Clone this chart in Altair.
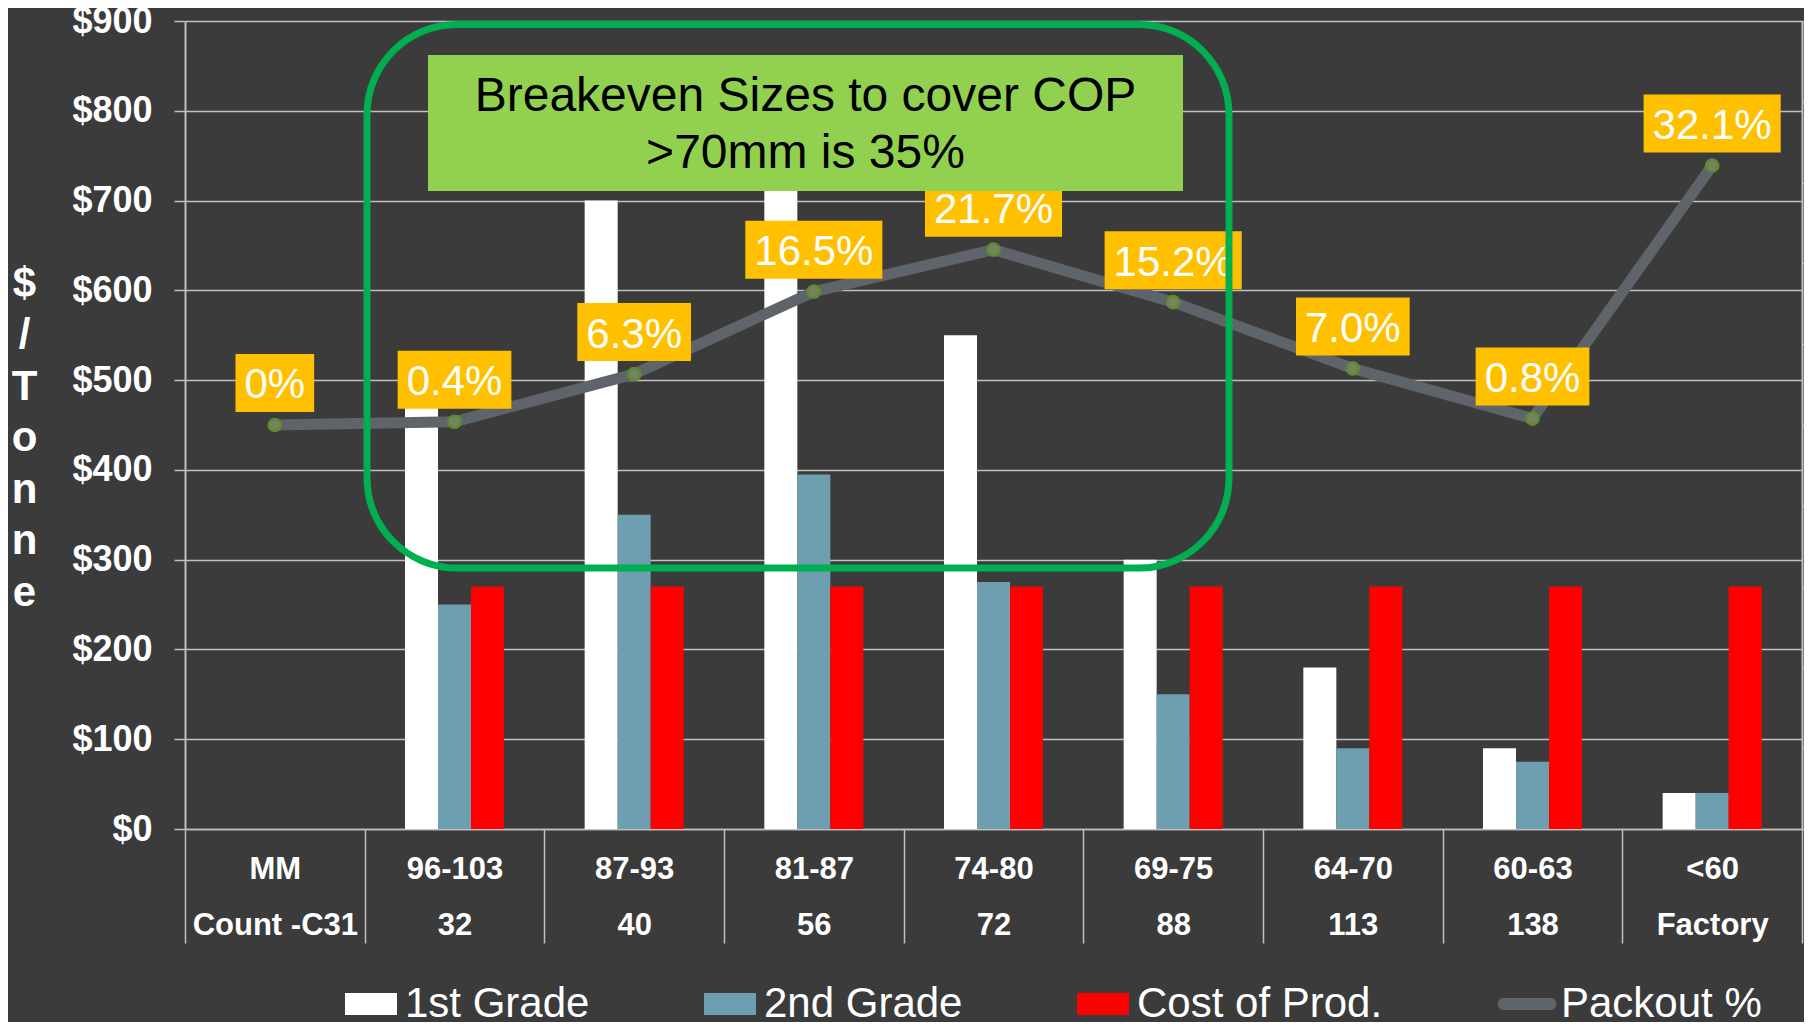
import altair as alt
import pandas as pd

# ---------------- data ----------------
mm_labels = ["MM", "96-103", "87-93", "81-87", "74-80", "69-75", "64-70", "60-63", "<60"]
count_labels = ["Count -C31", "32", "40", "56", "72", "88", "113", "138", "Factory"]
series_names = ["1st Grade", "2nd Grade", "Cost of Prod."]
first_grade = [None, 490, 700, 780, 550, 300, 180, 90, 40]
second_grade = [None, 250, 350, 395, 275, 150, 90, 75, 40]
cost_of_prod = [None, 270, 270, 270, 270, 270, 270, 270, 270]
packout_pct = [0.0, 0.4, 6.3, 16.5, 21.7, 15.2, 7.0, 0.8, 32.1]
packout_text = ["0%", "0.4%", "6.3%", "16.5%", "21.7%", "15.2%", "7.0%", "0.8%", "32.1%"]
legend_names = ["1st Grade", "2nd Grade", "Cost of Prod.", "Packout %"]
y_ticks = [0, 100, 200, 300, 400, 500, 600, 700, 800, 900]
y2_ticks = [-0.5, -0.4, -0.3, -0.2, -0.1, 0.0, 0.1, 0.2, 0.3, 0.4, 0.5]
note_lines = ["Breakeven Sizes to cover COP", ">70mm is 35%"]

cats = [f"{m}|{c}" for m, c in zip(mm_labels, count_labels)]

rows = []
for i, cat in enumerate(cats):
    for s, vals in zip(series_names, [first_grade, second_grade, cost_of_prod]):
        if vals[i] is not None:
            rows.append({"cat": cat, "series": s, "value": vals[i]})
bars_df = pd.DataFrame(rows)
line_df = pd.DataFrame({"cat": cats, "pk": [p / 100 for p in packout_pct], "label": packout_text})
leg_df = pd.DataFrame({"lseries": legend_names})
one_df = pd.DataFrame({"k": [0]})

# ---------------- style ----------------
FONT = "Liberation Sans, Arial, sans-serif"
GRID = "#c0c0c0"
BG = "#3b3b3b"
W, H = 1617, 808
STEP = W / len(cats)
GROUP = 99
bar_colors = ["#ffffff", "#6e9fb0", "#ff0000"]
legend_colors = ["#ffffff", "#6e9fb0", "#ff0000", "#5f646b"]
rect_path = "M-1,-0.423L1,-0.423L1,0.423L-1,0.423Z"
line_path = "M-0.9,-0.23L0.9,-0.23A0.23,0.23 0 0 1 0.9,0.23L-0.9,0.23A0.23,0.23 0 0 1 -0.9,-0.23Z"
legend_shapes = [rect_path, rect_path, rect_path, line_path]

x_enc = alt.X(
    "cat:N", sort=cats,
    scale=alt.Scale(domain=cats, paddingInner=0, paddingOuter=0),
    axis=alt.Axis(
        title=None, labelExpr="split(datum.label, '|')", labelFont=FONT,
        labelFontSize=31, labelFontWeight="bold", labelColor="white",
        labelLineHeight=56, labelAngle=0, labelBaseline="top", labelLimit=300,
        labelOverlap=False, tickBand="extent", ticks=True, tickSize=114,
        tickColor=GRID, tickWidth=1.5, labelPadding=-89, domain=True,
        domainColor=GRID, domainWidth=1.5, grid=False,
    ),
)

y_axis = alt.Axis(
    values=y_ticks, labelExpr="'$' + datum.value", labelFont=FONT,
    labelFontSize=36, labelFontWeight="bold", labelColor="white",
    labelPadding=22, tickSize=11, tickColor=GRID, tickWidth=1.5,
    grid=True, gridColor=GRID, gridWidth=1.5, domain=True,
    domainColor=GRID, domainWidth=2,
    title=["$", "/", "T", "o", "n", "n", "e"], titleAngle=0, titleFont=FONT,
    titleFontSize=42, titleFontWeight="bold", titleColor="white",
    titleLineHeight=51.5, titleX=-161, titleY=262, titleAlign="center",
    titleBaseline="middle",
)
y_scale = alt.Scale(domain=[0, 900], nice=False)

y2_scale = alt.Scale(domain=[-0.5, 0.5], nice=False)
y2_axis = alt.Axis(
    orient="right", labels=False, title=None, values=y2_ticks, tickSize=8,
    tickColor=GRID, tickWidth=1.5, domain=True, domainColor=GRID,
    domainWidth=2, grid=False,
)

bars = alt.Chart(bars_df).mark_bar().encode(
    x=x_enc,
    xOffset=alt.XOffset(
        "series:N", sort=series_names,
        scale=alt.Scale(domain=series_names, paddingInner=0, paddingOuter=0,
                        range=[(STEP - GROUP) / 2, (STEP + GROUP) / 2]),
    ),
    y=alt.Y("value:Q", scale=y_scale, axis=y_axis),
    color=alt.Color("series:N", scale=alt.Scale(domain=series_names, range=bar_colors), legend=None),
)

base2 = alt.Chart(line_df).transform_calculate(
    lo="datum.pk + 0.0161",
    hi="datum.pk + 0.0879",
    mid="datum.pk + 0.049",
    w="18 + 42 * (0.889 + 0.556 * (length(datum.label) - 1) - (indexof(datum.label, '.') >= 0 ? 0.278 : 0))",
)

line = base2.mark_line(color="#5f646b", strokeWidth=11).encode(
    x=x_enc, y=alt.Y("pk:Q", scale=y2_scale, axis=y2_axis)
)
points = base2.mark_point(
    filled=True, fill="#768262", stroke="#5c8c2c", strokeWidth=2.5, size=150, opacity=1
).encode(x=x_enc, y=alt.Y("pk:Q", scale=y2_scale, axis=y2_axis))
boxes = base2.mark_rule(color="#ffc000", strokeCap="butt").encode(
    x=x_enc,
    y=alt.Y("lo:Q", scale=y2_scale, axis=y2_axis),
    y2="hi:Q",
    strokeWidth=alt.StrokeWidth("w:Q", scale=None),
)
texts = base2.mark_text(
    font=FONT, fontSize=42, color="white", align="center", baseline="middle"
).encode(
    x=x_enc, y=alt.Y("mid:Q", scale=y2_scale, axis=y2_axis), text="label:N"
)
secondary = alt.layer(line, points, boxes, texts)

rounded = alt.Chart(one_df).mark_rect(
    cornerRadius=90, fillOpacity=0, stroke="#00b050", strokeWidth=7
).encode(x=alt.value(182), x2=alt.value(1044), y=alt.value(3.5), y2=alt.value(547))

note_box = alt.Chart(one_df).mark_rect(color="#92d050").encode(
    x=alt.value(243), x2=alt.value(998), y=alt.value(34), y2=alt.value(170)
)
note_text = alt.Chart(one_df).mark_text(
    font=FONT, fontSize=48, color="black", align="center", baseline="middle",
    lineHeight=57, text=note_lines,
).encode(x=alt.value(620.5), y=alt.value(76))

leg = alt.Legend(
    title=None, orient="none", legendX=160, legendY=957, direction="horizontal",
    labelFont=FONT, labelFontSize=42, labelColor="white", symbolSize=2704,
    symbolStrokeWidth=0, labelOffset=8, columnPadding=114, padding=0,
    labelLimit=400, symbolOpacity=1,
)
legend_layer = alt.Chart(leg_df).mark_point(filled=True, opacity=1).encode(
    x=alt.value(-3000), y=alt.value(-3000),
    color=alt.Color("lseries:N", scale=alt.Scale(domain=legend_names, range=legend_colors), legend=leg),
    shape=alt.Shape("lseries:N", scale=alt.Scale(domain=legend_names, range=legend_shapes), legend=leg),
)

chart = alt.layer(
    bars, secondary, rounded, note_box, note_text, legend_layer
).resolve_scale(
    y="independent", color="independent", shape="independent"
).properties(
    width=W, height=H, background=BG,
    padding={"left": 177, "top": 13, "right": 2, "bottom": 193},
    autosize=alt.AutoSizeParams(type="none"),
).configure_view(stroke="transparent")

chart.save("out.html", embed_options={"renderer": "svg", "actions": False})
